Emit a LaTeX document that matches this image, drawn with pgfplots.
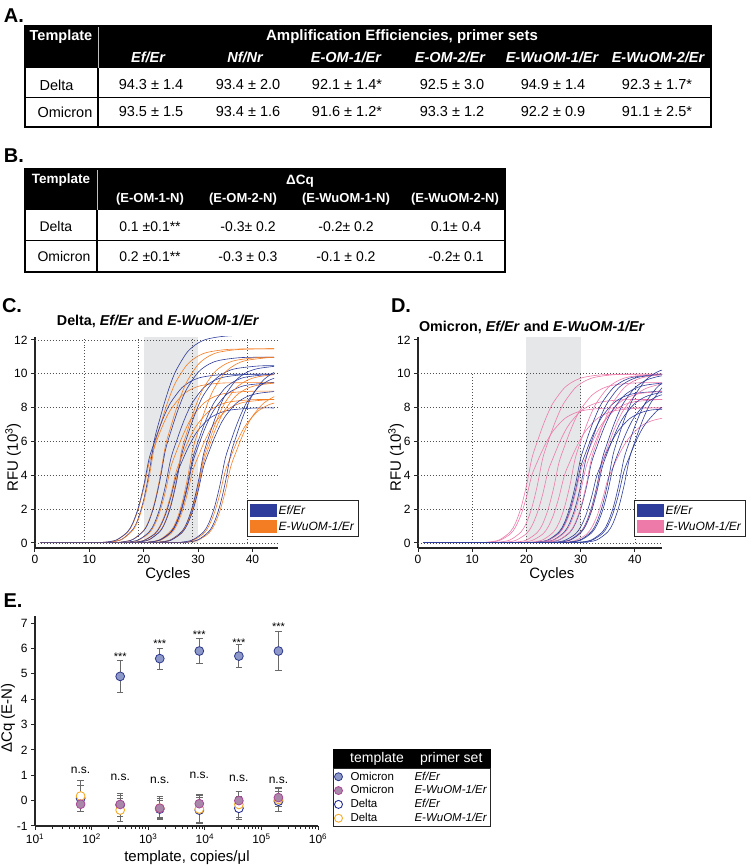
\documentclass[border=0pt]{standalone}
\usepackage{fontspec}
\setmainfont{Liberation Sans}
\usepackage{pgfplots}
\pgfplotsset{compat=1.18}
\definecolor{cblue}{RGB}{46,60,155}
\definecolor{corange}{RGB}{244,125,35}
\definecolor{cpink}{RGB}{238,122,170}
\definecolor{band}{RGB}{230,231,232}
\definecolor{gridc}{RGB}{80,80,80}
\definecolor{oefF}{RGB}{140,152,200}
\definecolor{oefD}{RGB}{45,55,140}
\definecolor{owuF}{RGB}{168,135,168}
\definecolor{owuD}{RGB}{170,70,150}
\definecolor{defD}{RGB}{35,45,150}
\definecolor{dwuD}{RGB}{245,170,40}
\definecolor{errc}{RGB}{105,105,105}
\newcommand{\fs}[1]{\fontsize{#1}{#1}\selectfont}
\tikzset{gdot/.style={gridc, line width=0.75pt, dash pattern=on 0.75pt off 2.2pt}}
\pgfplotsset{
  prism/.style={
    scale only axis,
    axis x line*=bottom, axis y line*=left,
    axis line style={line width=1.1pt, black!85},
    tick align=outside, major tick length=4pt,
    tick style={line width=1pt, black!85},
    tick label style={font=\fs{12}},
    label style={font=\fs{15}},
    /pgf/number format/assume math mode=true,
  },
  cb/.style={cblue, line width=0.6pt, smooth, no marks, forget plot},
  co/.style={corange, line width=0.6pt, smooth, no marks, forget plot},
  cp/.style={cpink, line width=0.6pt, smooth, no marks, forget plot},
  ebar/.style={only marks, mark=*, mark size=4.4pt, forget plot,
    error bars/.cd, y dir=both, y explicit, error mark=-,
    error bar style={errc, line width=0.9pt},
    error mark options={rotate=90, errc, mark size=3.2pt, line width=0.9pt},
    /pgfplots/.cd},
}
\begin{document}
\begin{tikzpicture}
\useasboundingbox (0,0) rectangle (750pt,867pt);
\begin{scope}[shift={(0pt,867pt)}, x=1pt, y=-1pt]
% ---------- Panel A ----------
\node[font=\fs{20}\bfseries] at (14,16) {A.};
\fill[black] (25,26) rectangle (711,68);
\draw[black!25, line width=1pt] (98,26) -- (98,68);
\draw[black, line width=1.2pt] (98,68) -- (98,127);
\draw[black, line width=1pt] (25,98) -- (711,98);
\draw[black, line width=1.3pt] (25,26) rectangle (711,127);
\node[text=white, font=\fs{14.5}\bfseries] at (61,37) {Template};
\node[text=white, font=\fs{15}\bfseries] at (402,37) {Amplification Efficiencies, primer sets};
\begin{scope}[every node/.style={text=white, font=\fs{14.5}\bfseries\itshape}]
\node at (148,57) {Ef/Er};
\node at (245,57) {Nf/Nr};
\node at (346,57) {E-OM-1/Er};
\node at (450,57) {E-OM-2/Er};
\node at (552,57) {E-WuOM-1/Er};
\node at (658,57) {E-WuOM-2/Er};
\end{scope}
\begin{scope}[every node/.style={font=\fs{14.5}}]
\node[anchor=west] at (36,85) {Delta};
\node at (151,85) {94.3 ± 1.4};
\node at (248,85) {93.4 ± 2.0};
\node at (347,85) {92.1 ± 1.4*};
\node at (452,85) {92.5 ± 3.0};
\node at (553,85) {94.9 ± 1.4};
\node at (657,85) {92.3 ± 1.7*};
\node[anchor=west] at (34,112) {Omicron};
\node at (151,112) {93.5 ± 1.5};
\node at (248,112) {93.4 ± 1.6};
\node at (347,112) {91.6 ± 1.2*};
\node at (452,112) {93.3 ± 1.2};
\node at (553,112) {92.2 ± 0.9};
\node at (657,112) {91.1 ± 2.5*};
\end{scope}
% ---------- Panel B ----------
\node[font=\fs{20}\bfseries] at (14,156) {B.};
\fill[black] (25,169) rectangle (505,210);
\draw[black!25, line width=1pt] (97,169) -- (97,210);
\draw[black, line width=1.2pt] (97,210) -- (97,272);
\draw[black, line width=1pt] (25,241) -- (505,241);
\draw[black, line width=1.3pt] (25,169) rectangle (505,272);
\node[text=white, font=\fs{13.5}\bfseries] at (61,180) {Template};
\node[text=white, font=\fs{13.5}\bfseries] at (300,181) {ΔCq};
\begin{scope}[every node/.style={text=white, font=\fs{13}\bfseries}]
\node at (150,199) {(E-OM-1-N)};
\node at (243,199) {(E-OM-2-N)};
\node at (346,199) {(E-WuOM-1-N)};
\node at (455,199) {(E-WuOM-2-N)};
\end{scope}
\begin{scope}[every node/.style={font=\fs{14}}]
\node[anchor=west] at (36,227) {Delta};
\node at (150,227) {0.1 ±0.1**};
\node at (248,227) {-0.3± 0.2};
\node at (346,227) {-0.2± 0.2};
\node at (456,227) {0.1± 0.4};
\node[anchor=west] at (34,257) {Omicron};
\node at (150,257) {0.2 ±0.1**};
\node at (248,257) {-0.3 ± 0.3};
\node at (346,257) {-0.1 ± 0.2};
\node at (456,257) {-0.2± 0.1};
\end{scope}
% ---------- letters and titles ----------
\node[font=\fs{20}\bfseries] at (12,306) {C.};
\node[font=\fs{20}\bfseries] at (401,306) {D.};
\node[font=\fs{20}\bfseries] at (13,601) {E.};
\node[font=\fs{14.3}\bfseries] at (158,321) {Delta, \textit{Ef/Er} and \textit{E-WuOM-1/Er}};
\node[font=\fs{14.3}\bfseries] at (532,327) {Omicron, \textit{Ef/Er} and \textit{E-WuOM-1/Er}};
\end{scope}

% ================= Panel C =================
\begin{axis}[prism, at={(35pt,319pt)}, anchor=south west, width=243pt, height=211.4pt,
  xmin=0, xmax=44.7, ymin=-0.3, ymax=12.2,
  xtick={0,10,20,30,40}, ytick={0,2,4,6,8,10,12},
  xlabel={Cycles}, ylabel={RFU (10\textsuperscript{3})},
  xlabel style={at={(axis description cs:0.547,-0.128)}, anchor=center},
  ylabel style={at={(axis description cs:-0.09,0.43)}, anchor=center},
  legend style={at={(0.872,0.227)}, anchor=north west, draw=black!85, line width=1.1pt, fill=white,
    font=\fs{12}\itshape, inner xsep=3pt, inner ysep=3pt, row sep=2pt},
  legend cell align=left]
\fill[band] (axis cs:20,0) rectangle (axis cs:30,12.2);
\pgfplotsinvokeforeach{0,2,4,6,8,10,12}{\draw[gdot] (axis cs:0,#1) -- (axis cs:44.7,#1);}
\pgfplotsinvokeforeach{9,19,29,39}{\draw[gdot] (axis cs:#1,0) -- (axis cs:#1,12.2);}
\addplot[co] coordinates {(1,0.03)(11,0.03)(13,0.05)(15,0.17)(17,0.62)(18,1.13)(19,1.99)(20,3.22)(21,4.75)(22,5.69)(23,6.56)(24,7.31)(25,7.90)(27,8.71)(29,9.13)(31,9.33)(35,9.46)(44,9.48)};
\addplot[cb] coordinates {(1,0.03)(12,0.03)(14,0.06)(16,0.22)(18,0.80)(19,1.46)(20,2.57)(21,4.17)(22,6.15)(23,7.37)(24,8.49)(25,9.46)(26,10.23)(28,11.28)(30,11.82)(32,12.08)(36,12.25)(44,12.28)};
\addplot[co] coordinates {(1,0.03)(12,0.03)(14,0.06)(16,0.21)(18,0.75)(19,1.37)(20,2.40)(21,3.90)(22,5.75)(23,6.89)(24,7.94)(25,8.84)(26,9.57)(28,10.55)(30,11.05)(32,11.29)(36,11.45)(44,11.48)};
\addplot[cb] coordinates {(1,0.03)(11,0.03)(13,0.05)(15,0.18)(17,0.65)(18,1.19)(19,2.09)(20,3.39)(21,5.00)(22,5.99)(23,6.90)(24,7.69)(25,8.32)(27,9.17)(29,9.61)(31,9.82)(35,9.96)(44,9.98)};
\addplot[co] coordinates {(1,0.03)(14,0.03)(16,0.06)(18,0.21)(20,0.75)(21,1.37)(22,2.40)(23,3.90)(24,5.75)(25,6.89)(26,7.94)(27,8.84)(28,9.57)(30,10.55)(32,11.05)(34,11.29)(38,11.45)(44,11.48)};
\addplot[cb] coordinates {(1,0.03)(14,0.03)(16,0.06)(18,0.20)(20,0.72)(21,1.31)(22,2.30)(23,3.73)(24,5.50)(25,6.59)(26,7.59)(27,8.46)(28,9.15)(30,10.09)(32,10.57)(34,10.80)(38,10.96)(44,10.98)};
\addplot[co] coordinates {(1,0.03)(15,0.03)(17,0.05)(19,0.16)(21,0.59)(22,1.07)(23,1.88)(24,3.05)(25,4.50)(26,5.39)(27,6.21)(28,6.92)(29,7.49)(31,8.25)(33,8.65)(35,8.84)(39,8.96)(44,8.98)};
\addplot[cb] coordinates {(1,0.03)(15,0.03)(17,0.05)(19,0.18)(21,0.65)(22,1.19)(23,2.09)(24,3.39)(25,5.00)(26,5.99)(27,6.90)(28,7.69)(29,8.32)(31,9.17)(33,9.61)(35,9.82)(39,9.96)(44,9.98)};
\addplot[co] coordinates {(1,0.03)(17,0.03)(19,0.06)(21,0.20)(23,0.72)(24,1.31)(25,2.30)(26,3.73)(27,5.50)(28,6.59)(29,7.59)(30,8.46)(31,9.15)(33,10.09)(35,10.57)(37,10.80)(41,10.96)(44,10.98)};
\addplot[cb] coordinates {(1,0.03)(17,0.03)(19,0.05)(21,0.19)(23,0.68)(24,1.25)(25,2.19)(26,3.56)(27,5.25)(28,6.29)(29,7.25)(30,8.07)(31,8.74)(33,9.63)(35,10.09)(37,10.31)(41,10.46)(44,10.48)};
\addplot[co] coordinates {(1,0.03)(16,0.03)(18,0.04)(20,0.15)(22,0.55)(23,1.01)(24,1.78)(25,2.88)(26,4.25)(27,5.09)(28,5.87)(29,6.54)(30,7.07)(32,7.79)(34,8.17)(36,8.35)(40,8.47)(44,8.48)};
\addplot[cb] coordinates {(1,0.03)(16,0.03)(18,0.04)(20,0.14)(22,0.52)(23,0.95)(24,1.67)(25,2.71)(26,4.00)(27,4.79)(28,5.52)(29,6.15)(30,6.66)(32,7.34)(34,7.69)(36,7.86)(40,7.97)(44,7.98)};
\addplot[co] coordinates {(1,0.03)(19,0.03)(21,0.06)(23,0.20)(25,0.72)(26,1.31)(27,2.30)(28,3.73)(29,5.50)(30,6.59)(31,7.59)(32,8.46)(33,9.15)(35,10.09)(37,10.57)(39,10.80)(43,10.96)(44,10.97)};
\addplot[cb] coordinates {(1,0.03)(19,0.03)(21,0.05)(23,0.18)(25,0.65)(26,1.19)(27,2.09)(28,3.39)(29,5.00)(30,5.99)(31,6.90)(32,7.69)(33,8.32)(35,9.17)(37,9.61)(39,9.82)(43,9.96)(44,9.97)};
\addplot[co] coordinates {(1,0.03)(19,0.03)(21,0.04)(23,0.15)(25,0.55)(26,1.01)(27,1.78)(28,2.88)(29,4.25)(30,5.09)(31,5.87)(32,6.54)(33,7.07)(35,7.79)(37,8.17)(39,8.35)(43,8.47)(44,8.47)};
\addplot[cb] coordinates {(1,0.03)(19,0.03)(21,0.05)(23,0.17)(25,0.62)(26,1.13)(27,1.99)(28,3.22)(29,4.75)(30,5.69)(31,6.56)(32,7.31)(33,7.90)(35,8.71)(37,9.13)(39,9.33)(43,9.46)(44,9.47)};
\addplot[co] coordinates {(1,0.03)(21,0.03)(23,0.05)(25,0.18)(27,0.65)(28,1.19)(29,2.09)(30,3.39)(31,5.00)(32,5.99)(33,6.90)(34,7.69)(35,8.32)(37,9.17)(39,9.61)(41,9.82)(44,9.95)};
\addplot[cb] coordinates {(1,0.03)(21,0.03)(23,0.05)(25,0.19)(27,0.68)(28,1.25)(29,2.19)(30,3.56)(31,5.25)(32,6.29)(33,7.25)(34,8.07)(35,8.74)(37,9.63)(39,10.09)(41,10.31)(44,10.44)};
\addplot[co] coordinates {(1,0.03)(21,0.03)(23,0.05)(25,0.17)(27,0.62)(28,1.13)(29,1.99)(30,3.22)(31,4.75)(32,5.69)(33,6.56)(34,7.31)(35,7.90)(37,8.71)(39,9.13)(41,9.33)(44,9.45)};
\addplot[cb] coordinates {(1,0.03)(21,0.03)(23,0.05)(25,0.16)(27,0.59)(28,1.07)(29,1.88)(30,3.05)(31,4.50)(32,5.39)(33,6.21)(34,6.92)(35,7.49)(37,8.25)(39,8.65)(41,8.84)(44,8.95)};
\addplot[co] coordinates {(1,0.03)(25,0.03)(27,0.04)(29,0.15)(31,0.55)(32,1.01)(33,1.78)(34,2.88)(35,4.25)(36,5.09)(37,5.87)(38,6.54)(39,7.07)(41,7.79)(43,8.17)(44,8.27)};
\addplot[cb] coordinates {(1,0.03)(25,0.03)(27,0.05)(29,0.18)(31,0.65)(32,1.19)(33,2.09)(34,3.39)(35,5.00)(36,5.99)(37,6.90)(38,7.69)(39,8.32)(41,9.17)(43,9.61)(44,9.73)};
\addplot[co] coordinates {(1,0.03)(26,0.03)(28,0.05)(30,0.16)(32,0.59)(33,1.07)(34,1.88)(35,3.05)(36,4.50)(37,5.39)(38,6.21)(39,6.92)(40,7.49)(42,8.25)(44,8.65)};
\addplot[cb] coordinates {(1,0.03)(26,0.03)(28,0.05)(30,0.19)(32,0.68)(33,1.25)(34,2.19)(35,3.56)(36,5.25)(37,6.29)(38,7.25)(39,8.07)(40,8.74)(42,9.63)(44,10.09)};
\addlegendimage{legend image code/.code={\fill[cblue] (0pt,-6pt) rectangle (25pt,6.5pt);}}
\addlegendentry{Ef/Er}
\addlegendimage{legend image code/.code={\fill[corange] (0pt,-6pt) rectangle (25pt,6.5pt);}}
\addlegendentry{E-WuOM-1/Er}
\end{axis}

% ================= Panel D =================
\begin{axis}[prism, at={(418pt,319pt)}, anchor=south west, width=244pt, height=211.4pt,
  xmin=0, xmax=45, ymin=-0.3, ymax=12.2,
  xtick={0,10,20,30,40}, ytick={0,2,4,6,8,10,12},
  xlabel={Cycles}, ylabel={RFU (10\textsuperscript{3})},
  xlabel style={at={(axis description cs:0.549,-0.128)}, anchor=center},
  ylabel style={at={(axis description cs:-0.09,0.43)}, anchor=center},
  legend style={at={(0.885,0.227)}, anchor=north west, draw=black!85, line width=1.1pt, fill=white,
    font=\fs{12}\itshape, inner xsep=3pt, inner ysep=3pt, row sep=2pt},
  legend cell align=left]
\fill[band] (axis cs:20,0) rectangle (axis cs:30,12.2);
\pgfplotsinvokeforeach{0,2,4,6,8,10}{\draw[gdot] (axis cs:0,#1) -- (axis cs:45,#1);}
\pgfplotsinvokeforeach{10,20,30,40}{\draw[gdot] (axis cs:#1,0) -- (axis cs:#1,10);}
\addplot[cp] coordinates {(1,0.03)(11,0.03)(13,0.04)(15,0.14)(17,0.52)(18,0.95)(19,1.67)(20,2.71)(21,4.00)(22,4.79)(23,5.52)(24,6.15)(25,6.66)(27,7.34)(29,7.69)(31,7.86)(35,7.97)(45,7.98)};
\addplot[cp] coordinates {(1,0.03)(11,0.03)(13,0.05)(15,0.18)(17,0.65)(18,1.19)(19,2.09)(20,3.39)(21,5.00)(22,5.99)(23,6.90)(24,7.69)(25,8.32)(27,9.17)(29,9.61)(31,9.82)(35,9.96)(45,9.98)};
\addplot[cp] coordinates {(1,0.03)(13,0.03)(15,0.05)(17,0.18)(19,0.65)(20,1.19)(21,2.09)(22,3.39)(23,5.00)(24,5.99)(25,6.90)(26,7.69)(27,8.32)(29,9.17)(31,9.61)(33,9.82)(37,9.96)(45,9.98)};
\addplot[cp] coordinates {(1,0.03)(14,0.03)(16,0.04)(18,0.15)(20,0.55)(21,1.01)(22,1.78)(23,2.88)(24,4.25)(25,5.09)(26,5.87)(27,6.54)(28,7.07)(30,7.79)(32,8.17)(34,8.35)(38,8.47)(45,8.48)};
\addplot[cp] coordinates {(1,0.03)(16,0.03)(18,0.05)(20,0.17)(22,0.62)(23,1.13)(24,1.99)(25,3.22)(26,4.75)(27,5.69)(28,6.56)(29,7.31)(30,7.90)(32,8.71)(34,9.13)(36,9.33)(40,9.46)(45,9.48)};
\addplot[cp] coordinates {(1,0.03)(17,0.03)(19,0.04)(21,0.14)(23,0.52)(24,0.95)(25,1.67)(26,2.71)(27,4.00)(28,4.79)(29,5.52)(30,6.15)(31,6.66)(33,7.34)(35,7.69)(37,7.86)(41,7.97)(45,7.98)};
\addplot[cb] coordinates {(1,0.03)(20,0.03)(22,0.05)(24,0.18)(26,0.65)(27,1.19)(28,2.09)(29,3.39)(30,5.00)(31,5.99)(32,6.90)(33,7.69)(34,8.32)(36,9.17)(38,9.61)(40,9.82)(44,9.96)(45,9.97)};
\addplot[cp] coordinates {(1,0.03)(19,0.03)(21,0.05)(23,0.18)(25,0.65)(26,1.19)(27,2.09)(28,3.39)(29,5.00)(30,5.99)(31,6.90)(32,7.69)(33,8.32)(35,9.17)(37,9.61)(39,9.82)(43,9.96)(45,9.98)};
\addplot[cb] coordinates {(1,0.03)(20,0.03)(22,0.05)(24,0.16)(26,0.59)(27,1.07)(28,1.88)(29,3.05)(30,4.50)(31,5.39)(32,6.21)(33,6.92)(34,7.49)(36,8.25)(38,8.65)(40,8.84)(44,8.96)(45,8.97)};
\addplot[cp] coordinates {(1,0.03)(20,0.03)(22,0.04)(24,0.15)(26,0.55)(27,1.01)(28,1.78)(29,2.88)(30,4.25)(31,5.09)(32,5.87)(33,6.54)(34,7.07)(36,7.79)(38,8.17)(40,8.35)(44,8.47)(45,8.48)};
\addplot[cb] coordinates {(1,0.03)(21,0.03)(23,0.05)(25,0.18)(27,0.65)(28,1.19)(29,2.09)(30,3.39)(31,5.00)(32,5.99)(33,6.90)(34,7.69)(35,8.32)(37,9.17)(39,9.61)(41,9.82)(45,9.96)};
\addplot[cp] coordinates {(1,0.03)(21,0.03)(23,0.05)(25,0.16)(27,0.59)(28,1.07)(29,1.88)(30,3.05)(31,4.50)(32,5.39)(33,6.21)(34,6.92)(35,7.49)(37,8.25)(39,8.65)(41,8.84)(45,8.96)};
\addplot[cb] coordinates {(1,0.03)(22,0.03)(24,0.05)(26,0.17)(28,0.62)(29,1.13)(30,1.99)(31,3.22)(32,4.75)(33,5.69)(34,6.56)(35,7.31)(36,7.90)(38,8.71)(40,9.13)(42,9.33)(45,9.45)};
\addplot[cp] coordinates {(1,0.03)(22,0.03)(24,0.05)(26,0.18)(28,0.65)(29,1.19)(30,2.09)(31,3.39)(32,5.00)(33,5.99)(34,6.90)(35,7.69)(36,8.32)(38,9.17)(40,9.61)(42,9.82)(45,9.95)};
\addplot[cb] coordinates {(1,0.03)(23,0.03)(25,0.04)(27,0.14)(29,0.52)(30,0.95)(31,1.67)(32,2.71)(33,4.00)(34,4.79)(35,5.52)(36,6.15)(37,6.66)(39,7.34)(41,7.69)(43,7.86)(45,7.90)};
\addplot[cb] coordinates {(1,0.03)(24,0.03)(26,0.05)(28,0.18)(30,0.65)(31,1.19)(32,2.09)(33,3.39)(34,5.00)(35,5.99)(36,6.90)(37,7.69)(38,8.32)(40,9.17)(42,9.61)(44,9.82)(45,9.88)};
\addplot[cp] coordinates {(1,0.03)(24,0.03)(26,0.05)(28,0.17)(30,0.62)(31,1.13)(32,1.99)(33,3.22)(34,4.75)(35,5.69)(36,6.56)(37,7.31)(38,7.90)(40,8.71)(42,9.13)(44,9.33)(45,9.39)};
\addplot[cb] coordinates {(1,0.03)(24,0.03)(26,0.05)(28,0.16)(30,0.59)(31,1.07)(32,1.88)(33,3.05)(34,4.50)(35,5.39)(36,6.21)(37,6.92)(38,7.49)(40,8.25)(42,8.65)(44,8.84)(45,8.89)};
\addplot[cp] coordinates {(1,0.03)(25,0.03)(27,0.04)(29,0.14)(31,0.49)(32,0.89)(33,1.57)(34,2.54)(35,3.75)(36,4.49)(37,5.18)(38,5.77)(39,6.24)(41,6.88)(43,7.21)(45,7.37)};
\addplot[cb] coordinates {(1,0.03)(26,0.03)(28,0.05)(30,0.19)(32,0.68)(33,1.25)(34,2.19)(35,3.56)(36,5.25)(37,6.29)(38,7.25)(39,8.07)(40,8.74)(42,9.63)(44,10.09)(45,10.22)};
\addplot[cb] coordinates {(1,0.03)(26,0.03)(28,0.05)(30,0.16)(32,0.59)(33,1.07)(34,1.88)(35,3.05)(36,4.50)(37,5.39)(38,6.21)(39,6.92)(40,7.49)(42,8.25)(44,8.65)(45,8.76)};
\addplot[cb] coordinates {(1,0.03)(28,0.03)(30,0.05)(32,0.18)(34,0.65)(35,1.19)(36,2.09)(37,3.39)(38,5.00)(39,5.99)(40,6.90)(41,7.69)(42,8.32)(44,9.17)(45,9.43)};
\addplot[cb] coordinates {(1,0.03)(28,0.03)(30,0.04)(32,0.15)(34,0.55)(35,1.01)(36,1.78)(37,2.88)(38,4.25)(39,5.09)(40,5.87)(41,6.54)(42,7.07)(44,7.79)(45,8.02)};
\addplot[cb] coordinates {(1,0.03)(29,0.03)(31,0.05)(33,0.18)(35,0.65)(36,1.19)(37,2.09)(38,3.39)(39,5.00)(40,5.99)(41,6.90)(42,7.69)(43,8.32)(45,9.17)};
\addlegendimage{legend image code/.code={\fill[cblue] (0pt,-6pt) rectangle (25pt,6.5pt);}}
\addlegendentry{Ef/Er}
\addlegendimage{legend image code/.code={\fill[cpink] (0pt,-6pt) rectangle (25pt,6.5pt);}}
\addlegendentry{E-WuOM-1/Er}
\end{axis}

% ================= Panel E =================
\begin{axis}[prism, at={(35pt,41pt)}, anchor=south west, width=283pt, height=210.5pt,
  xmode=log, xmin=10, xmax=1e6, ymin=-1, ymax=7.3,
  xtick={10,100,1000,10000,100000,1000000},
  xticklabels={10\textsuperscript{1},10\textsuperscript{2},10\textsuperscript{3},10\textsuperscript{4},10\textsuperscript{5},10\textsuperscript{6}},
  minor xtick={}, ytick={-1,0,1,2,3,4,5,6,7},
  xlabel={template, copies/μl}, ylabel={ΔCq (E-N)},
  xlabel style={at={(axis description cs:0.537,-0.149)}, anchor=center},
  ylabel style={at={(axis description cs:-0.095,0.512)}, anchor=center},
  legend style={name=legE, at={(1.053,0.274)}, anchor=north west, draw=black!85, line width=1pt, fill=white,
    font=\fs{11.5}, inner sep=1pt, row sep=0pt},
  legend cell align=left]
\addplot[mark options={fill=oefF, draw=oefD, line width=0.8pt}, ebar] coordinates {
 (320,4.9) +- (0,0.62) (1600,5.6) +- (0,0.42) (8000,5.9) +- (0,0.49) (40000,5.7) +- (0,0.44) (200000,5.9) +- (0,0.78)};
\addplot[mark options={fill=white, draw=defD, line width=0.9pt}, ebar] coordinates {
 (64,0.09) +- (0,0.5) (320,-0.17) +- (0,0.45) (1600,-0.33) +- (0,0.35) (8000,-0.37) +- (0,0.5) (40000,-0.3) +- (0,0.45) (200000,-0.02) +- (0,0.4)};
\addplot[mark options={fill=white, draw=dwuD, line width=0.9pt}, ebar] coordinates {
 (64,0.18) +- (0,0.62) (320,-0.37) +- (0,0.45) (1600,-0.3) +- (0,0.45) (8000,-0.33) +- (0,0.55) (40000,-0.15) +- (0,0.5) (200000,0.05) +- (0,0.48)};
\addplot[mark options={fill=owuF, draw=owuD, line width=0.8pt}, ebar] coordinates {
 (64,-0.14) +- (0,0.3) (320,-0.15) +- (0,0.35) (1600,-0.3) +- (0,0.4) (8000,-0.12) +- (0,0.35) (40000,0.0) +- (0,0.35) (200000,0.12) +- (0,0.35)};
\begin{scope}[every node/.style={font=\fs{11}}]
\node at (axis cs:320,5.69) {***};
\node at (axis cs:1600,6.2) {***};
\node at (axis cs:8000,6.53) {***};
\node at (axis cs:40000,6.24) {***};
\node at (axis cs:200000,6.86) {***};
\end{scope}
\begin{scope}[every node/.style={font=\fs{12}}]
\node at (axis cs:64,1.2) {n.s.};
\node at (axis cs:320,0.9) {n.s.};
\node at (axis cs:1600,0.82) {n.s.};
\node at (axis cs:8000,1.0) {n.s.};
\node at (axis cs:40000,0.86) {n.s.};
\node at (axis cs:200000,0.79) {n.s.};
\end{scope}
\addlegendimage{only marks, mark=*, mark size=4pt, mark options={fill=oefF, draw=oefD, line width=0.8pt}}
\addlegendentry{\hspace{6pt}\makebox[64pt][l]{Omicron}\textit{Ef/Er}}
\addlegendimage{only marks, mark=*, mark size=4pt, mark options={fill=owuF, draw=owuD, line width=0.8pt}}
\addlegendentry{\hspace{6pt}\makebox[64pt][l]{Omicron}\textit{E-WuOM-1/Er}\hspace{4pt}}
\addlegendimage{only marks, mark=*, mark size=4pt, mark options={fill=white, draw=defD, line width=0.9pt}}
\addlegendentry{\hspace{6pt}\makebox[64pt][l]{Delta}\textit{Ef/Er}}
\addlegendimage{only marks, mark=*, mark size=4pt, mark options={fill=white, draw=dwuD, line width=0.9pt}}
\addlegendentry{\hspace{6pt}\makebox[64pt][l]{Delta}\textit{E-WuOM-1/Er}\hspace{4pt}}
\end{axis}
\fill[black] ([xshift=-0.5pt]legE.north west) rectangle ([xshift=0.5pt,yshift=19pt]legE.north east);
\node[anchor=west, text=white, font=\fs{14}, inner sep=0pt] at ([xshift=17pt,yshift=9.5pt]legE.north west) {template};
\node[anchor=west, text=white, font=\fs{14}, inner sep=0pt] at ([xshift=87pt,yshift=9.5pt]legE.north west) {primer set};
\end{tikzpicture}
\end{document}
